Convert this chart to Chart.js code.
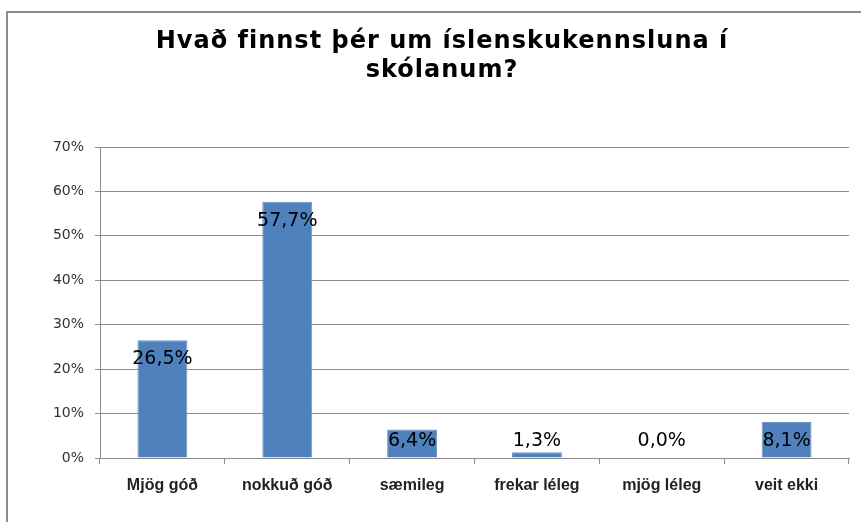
<!DOCTYPE html>
<html>
<head>
<meta charset="utf-8">
<script src="https://cdn.jsdelivr.net/npm/chart.js@4/dist/chart.umd.min.js"></script>
<style>
  html, body { margin: 0; padding: 0; background: #fff; }
  #wrap { position: relative; width: 861px; height: 522px; overflow: hidden; }
  #frame { position: absolute; left: 6px; top: 11px; width: 900px; height: 600px;
           border-top: 2px solid #8a8a8a; border-left: 2px solid #8a8a8a; box-sizing: border-box; }
  canvas { position: absolute; left: 0; top: 0; }
</style>
</head>
<body>
<div id="wrap">
  <div id="frame"></div>
  <canvas id="c" width="861" height="522"></canvas>
</div>
<script>
const titleLines = ["Hvað finnst þér um íslenskukennsluna í", "skólanum?"];
const categories = ["Mjög góð", "nokkuð góð", "sæmileg", "frekar léleg", "mjög léleg", "veit ekki"];
const values = [26.5, 57.7, 6.4, 1.3, 0.0, 8.1];
const yTicks = [0, 10, 20, 30, 40, 50, 60, 70];

const titlePlugin = {
  id: 'wideTitle',
  afterDraw(chart) {
    const ctx = chart.ctx;
    ctx.save();
    ctx.font = 'bold 24px "DejaVu Sans"';
    ctx.letterSpacing = '1px';
    ctx.fillStyle = '#000';
    ctx.textAlign = 'center';
    ctx.textBaseline = 'alphabetic';
    const cx = 442;
    titleLines.forEach((t, i) => ctx.fillText(t, cx, 48 + i * 29));
    ctx.restore();
  }
};

const labelPlugin = {
  id: 'valueLabels',
  afterDatasetsDraw(chart) {
    const ctx = chart.ctx;
    const meta = chart.getDatasetMeta(0);
    const base = chart.scales.y.getPixelForValue(0);
    ctx.save();
    ctx.font = '19px "DejaVu Sans"';
    ctx.fillStyle = '#000';
    ctx.textAlign = 'center';
    ctx.textBaseline = 'middle';
    meta.data.forEach((bar, i) => {
      const y = Math.min(bar.y + 19, base - 17);
      ctx.fillText(values[i].toFixed(1).replace('.', ',') + '%', bar.x, y);
    });
    ctx.restore();
  }
};

new Chart(document.getElementById('c'), {
  type: 'bar',
  data: {
    labels: categories,
    datasets: [{
      data: values,
      backgroundColor: '#4F81BD',
      borderColor: '#6f97c9',
      borderWidth: 1,
      categoryPercentage: 1,
      barPercentage: 0.4
    }]
  },
  options: {
    responsive: false,
    animation: false,
    devicePixelRatio: 1,
    layout: { padding: { left: 0, right: 12, top: 147, bottom: 0 } },
    plugins: {
      legend: { display: false },
      tooltip: { enabled: false },
      title: { display: false }
    },
    scales: {
      y: {
        min: 0, max: 70,
        afterBuildTicks(axis) { axis.ticks = yTicks.map(v => ({ value: v })); },
        afterFit(axis) { axis.width = 100; },
        ticks: {
          callback: v => v + '%',
          color: '#333',
          font: { family: '"DejaVu Sans"', size: 14 },
          padding: 11
        },
        grid: { color: '#8c8c8c', lineWidth: 1, tickLength: 5, drawTicks: true },
        border: { color: '#8c8c8c', width: 1 }
      },
      x: {
        afterFit(axis) { axis.height = 522 - 458; },
        ticks: {
          color: '#222',
          font: { family: '"Liberation Sans"', size: 16, weight: 'bold' },
          padding: 12,
          maxRotation: 0
        },
        grid: { offset: true, drawOnChartArea: false, drawTicks: true, tickLength: 6, color: '#8c8c8c' },
        border: { color: '#8c8c8c', width: 1 }
      }
    }
  },
  plugins: [labelPlugin, titlePlugin]
});
</script>
</body>
</html>
